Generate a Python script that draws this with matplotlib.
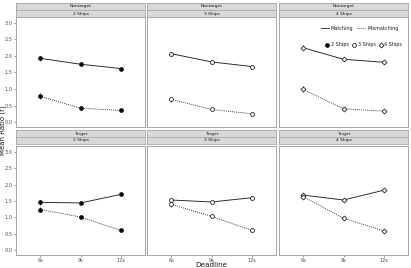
import numpy as np
import matplotlib.pyplot as plt
from matplotlib.lines import Line2D

deadlines = ['6s', '9s', '12s']
conditions = ['Nontarget', 'Target']
ships = ['2 Ships', '3 Ships', '4 Ships']

# mean values [condition][ships] -> list over deadlines
matching = {
    'Nontarget': [[1.93, 1.75, 1.62], [2.07, 1.82, 1.68], [2.25, 1.90, 1.81]],
    'Target':    [[1.46, 1.44, 1.70], [1.53, 1.47, 1.60], [1.68, 1.53, 1.83]],
}
mismatching = {
    'Nontarget': [[0.78, 0.42, 0.35], [0.69, 0.38, 0.25], [0.99, 0.40, 0.33]],
    'Target':    [[1.24, 1.01, 0.60], [1.40, 1.03, 0.60], [1.63, 0.97, 0.59]],
}
err_match = {
    'Nontarget': [[0.07, 0.06, 0.05], [0.06, 0.05, 0.05], [0.07, 0.05, 0.05]],
    'Target':    [[0.07, 0.06, 0.06], [0.07, 0.05, 0.05], [0.07, 0.05, 0.05]],
}
err_mis = {
    'Nontarget': [[0.09, 0.05, 0.04], [0.07, 0.05, 0.04], [0.09, 0.05, 0.04]],
    'Target':    [[0.07, 0.06, 0.06], [0.07, 0.06, 0.05], [0.07, 0.06, 0.05]],
}

W, H = 411, 268
fig = plt.figure(figsize=(W / 100, H / 100), dpi=100)

def box(l, t, w, h):
    return [l / W, 1 - (t + h) / H, w / W, h / H]

lefts = [16, 147, 279]
pw = 129
rows = [(3, 17, 110), (130, 146, 109)]  # strip top, panel top, panel height
markers = {'2 Ships': dict(marker='o', mfc='black', markersize=2.8),
           '3 Ships': dict(marker='o', mfc='white', markersize=2.8),
           '4 Ships': dict(marker='D', mfc='white', markersize=2.5)}
txtc = '#4d4d4d'
ink = '#222222'
dotted = (0, (1, 1.3))
x = np.arange(len(deadlines))

for r, cond in enumerate(conditions):
    st, pt, ph = rows[r]
    for c, s in enumerate(ships):
        # strips
        for k, lab in enumerate([cond, s]):
            sa = fig.add_axes(box(lefts[c], st + k * 7, pw, 7))
            sa.set_facecolor('#d9d9d9')
            sa.set_xticks([]); sa.set_yticks([])
            for sp in sa.spines.values():
                sp.set_color('#a6a6a6'); sp.set_linewidth(0.6)
            sa.text(0.5, 0.5, lab, ha='center', va='center', fontsize=3.2, color='#1a1a1a')
        ax = fig.add_axes(box(lefts[c], pt, pw, ph))
        for sp in ax.spines.values():
            sp.set_color('#a6a6a6'); sp.set_linewidth(0.7)
        mk = markers[s]
        ax.errorbar(x, matching[cond][c], yerr=err_match[cond][c], color=ink,
                    lw=0.65, elinewidth=0.6, capsize=0, mec=ink, mew=0.6, ls='-', **mk)
        ax.errorbar(x, mismatching[cond][c], yerr=err_mis[cond][c], color=ink,
                    lw=0.65, elinewidth=0.6, capsize=0, mec=ink, mew=0.6, ls=dotted, **mk)
        ax.set_xlim(-0.6, 2.6)
        ax.set_ylim(-0.15, 3.18)
        ax.set_xticks(x)
        ax.set_yticks([0, 0.5, 1.0, 1.5, 2.0, 2.5, 3.0])
        ax.tick_params(length=1.5, width=0.4, color='#4d4d4d', labelsize=3.6,
                       labelcolor=txtc, pad=1)
        if c == 0:
            ax.set_yticklabels(['0.0', '0.5', '1.0', '1.5', '2.0', '2.5', '3.0'])
        else:
            ax.tick_params(axis='y', length=0)
            ax.set_yticklabels([])
        if r == 1:
            ax.set_xticklabels(deadlines)
        else:
            ax.tick_params(axis='x', length=0)
            ax.set_xticklabels([])
        if r == 0 and c == 2:
            h1 = [Line2D([], [], color=ink, lw=0.6, ls='-'),
                  Line2D([], [], color=ink, lw=0.6, ls=dotted)]
            leg1 = ax.legend(h1, ['Matching', 'Mismatching'], loc='upper right', ncol=2,
                             bbox_to_anchor=(0.96, 0.96), frameon=False, fontsize=3.5,
                             handlelength=1.6, columnspacing=0.8, handletextpad=0.4)
            for t in leg1.get_texts():
                t.set_color('#1a1a1a')
            ax.add_artist(leg1)
            h2 = [Line2D([], [], ls='', color=ink, mec=ink, mew=0.6, **markers[s2])
                  for s2 in ships]
            leg2 = ax.legend(h2, ships, loc='upper right', ncol=3,
                             bbox_to_anchor=(0.99, 0.81), frameon=False, fontsize=3.5,
                             handlelength=0.6, columnspacing=0.7, handletextpad=0.5)
            for t in leg2.get_texts():
                t.set_color('#1a1a1a')

fig.text((lefts[1] + pw / 2) / W, 1 - 265 / H, 'Deadline', ha='center', va='center',
         fontsize=5.2, color='#1a1a1a')
fig.text(2.5 / W, 1 - 130 / H, 'Mean Ratio (r)', rotation=90, ha='center', va='center',
         fontsize=5.0, color='#1a1a1a')

fig.savefig('out.png', dpi=100)
